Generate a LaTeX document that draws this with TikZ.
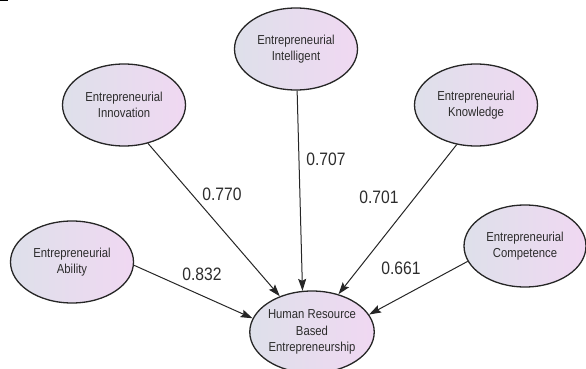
\documentclass[tikz,border=0pt]{standalone}
\usepackage{fontspec}
\setmainfont{Liberation Sans}
\newfontfamily\narrowfont[FakeStretch=0.87]{Liberation Sans}
\usetikzlibrary{shapes.geometric,arrows.meta}
\definecolor{bord}{HTML}{262626}
\definecolor{txt}{HTML}{2C2C2C}
\definecolor{lcol}{HTML}{DEE0EA}
\definecolor{rcol}{HTML}{F0D8F2}
\tikzset{
  latent/.style={ellipse, draw=bord, line width=1.3pt, left color=lcol, right color=rcol,
    minimum width=123pt, minimum height=82pt, inner sep=0pt, align=center,
    text=txt, font=\narrowfont\fontsize{13}{15.5}\selectfont},
  path/.style={draw=bord, line width=1pt, -{Stealth[length=12pt,width=8pt,inset=2pt]}},
  coef/.style={text=txt, font=\narrowfont\fontsize{18}{18}\selectfont, inner sep=0pt}
}
\begin{document}
\begin{tikzpicture}[x=1pt,y=-1pt]
\useasboundingbox (0,0) rectangle (586,369);
\fill[black] (0,0) rectangle (8,1.5);
\node[latent] (intel) at (296,49) {Entrepreneurial\\Intelligent};
\node[latent] (innov) at (124,105) {Entrepreneurial\\Innovation};
\node[latent] (know) at (476,105) {Entrepreneurial\\Knowledge};
\node[latent] (abil) at (72,262) {Entrepreneurial\\Ability};
\node[latent, minimum width=122pt] (comp) at (525,246) {Entrepreneurial\\Competence};
\node[latent, font=\narrowfont\fontsize{13}{16.5}\selectfont] (hr) at (312,332) {Human Resource\\Based\\Entrepreneurship};
\draw[path] (intel) -- (hr.103);
\draw[path] (innov.-58) -- (hr.132);
\draw[path] (know.-116) -- (hr.55);
\draw[path] (abil.-3) -- (hr.167);
\draw[path] (comp.195) -- (hr.17);
\node[coef] (c1) at (326,159) {0.707};
\node[coef] (c2) at (222,194) {0.770};
\node[coef] (c3) at (379,197) {0.701};
\node[coef] (c4) at (202,274) {0.832};
\node[coef] (c5) at (401,268) {0.661};
\end{tikzpicture}
\end{document}
